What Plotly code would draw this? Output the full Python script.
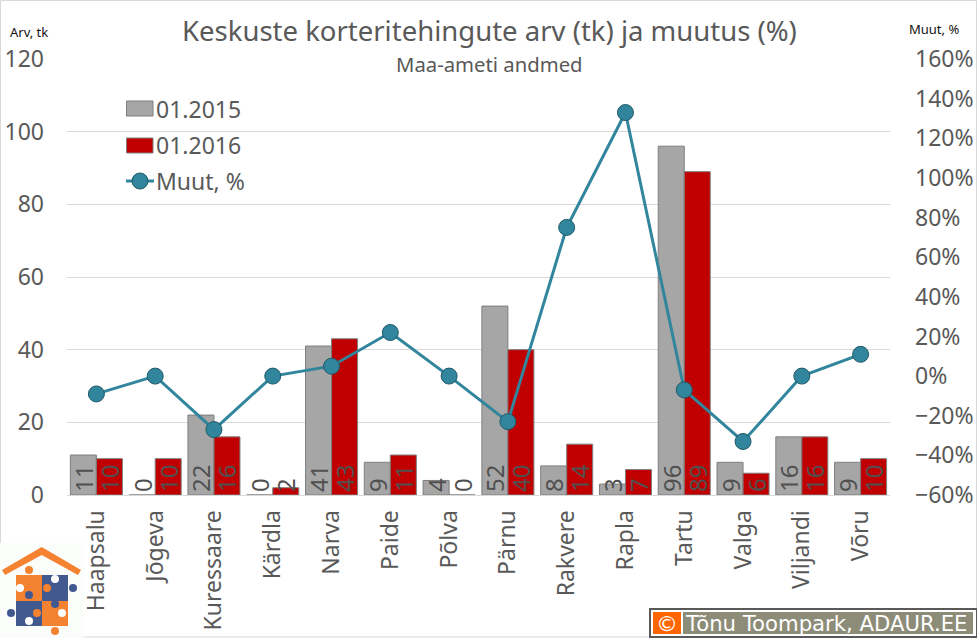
import plotly.graph_objects as go

categories = ["Haapsalu","Jõgeva","Kuressaare","Kärdla","Narva","Paide","Põlva","Pärnu","Rakvere","Rapla","Tartu","Valga","Viljandi","Võru"]
values_2015 = [11,0,22,0,41,9,4,52,8,3,96,9,16,9]
values_2016 = [10,10,16,2,43,11,0,40,14,7,89,6,16,10]
change_pct = [-9,0,-27,0,5,22,0,-23,75,133,-7,-33,0,11]

FONT = "Noto Sans"
GREY = "#595959"
W, H = 977, 638
L, R, T, B = 67, 890, 59, 495

def px(x): return (x - L) / (R - L)
def py(y): return (B - y) / (B - T)

fig = go.Figure()
for name, vals, col in [("01.2015", values_2015, "#a6a6a6"), ("01.2016", values_2016, "#c00000")]:
    fig.add_trace(go.Bar(
        x=categories, y=vals, name=name,
        marker=dict(color=col, line=dict(color="#7f7f7f", width=1)),
        text=[str(v) for v in vals],
        textposition=["outside" if v == 0 else "inside" for v in vals],
        insidetextanchor="start",
        textangle=-90, constraintext="none", cliponaxis=False,
        textfont=dict(family=FONT, size=24, color="#505050"),
    ))
fig.add_trace(go.Scatter(
    x=categories, y=change_pct, name="Muut, %", yaxis="y2", mode="lines+markers",
    line=dict(color="#31859c", width=3),
    marker=dict(color="#31859c", size=16, line=dict(color="#215968", width=1)),
))

def rect(x0, y0, x1, y1, fill, line=None, lw=0, layer="above"):
    return dict(type="rect", xref="paper", yref="paper", x0=px(x0), x1=px(x1), y0=py(y1), y1=py(y0),
                fillcolor=fill, line=dict(color=line, width=lw) if lw else dict(width=0), layer=layer)
def poly(points, color):
    path = "M " + " L ".join(f"{px(a):.5f},{py(b):.5f}" for a, b in points) + " Z"
    return dict(type="path", xref="paper", yref="paper", path=path, fillcolor=color, line=dict(width=0), layer="above")
def circ(cx, cy, r, color, line=None):
    return dict(type="circle", xref="paper", yref="paper", x0=px(cx-r), x1=px(cx+r), y0=py(cy+r), y1=py(cy-r),
                fillcolor=color, line=dict(color=line, width=1) if line else dict(width=0), layer="above")

OR, BL = "#f58231", "#42598f"
shapes = [
    rect(0.5, 0.5, 976.5, 637, "rgba(0,0,0,0)", "#d9d9d9", 1, "below"),
    rect(175, 12, 802, 78, "#ffffff"),
    # legend keys
    rect(126.5, 101, 153, 116, "#a6a6a6", "#7f7f7f", 1),
    rect(126.5, 138, 153, 153, "#c00000", "#7f7f7f", 1),
    dict(type="line", xref="paper", yref="paper", x0=px(126), x1=px(154), y0=py(181), y1=py(181),
         line=dict(color="#31859c", width=3), layer="above"),
    circ(140, 181, 8, "#31859c", "#215968"),
    # logo
    rect(0, 543, 84, 638, "#fbfdfb"),
    poly([(2,570),(41.7,547),(81,570),(78,575),(41.7,555),(5,575)], OR),
    poly([(16,575),(42,575),(42,601),(16,601)], OR),
    poly([(42,575),(68,575),(68,601),(42,601)], BL),
    poly([(16,601),(42,601),(42,626),(16,626)], BL),
    poly([(42,601),(68,601),(68,626),(42,626)], OR),
    circ(29,570,4,OR), circ(73,588,4,BL), circ(11,613,4,BL), circ(55,631,4,OR),
    circ(55,579,4,"#ffffff"), circ(20,588,4,"#ffffff"), circ(29,621,4,"#ffffff"), circ(62,613,4,"#ffffff"),
    circ(29,595,4,BL), circ(55,604,4,BL), circ(37,613,4,OR), circ(47,588,4,OR),
    # copyright badge
    rect(650, 609, 977, 637, "#ffffff", "#595959", 2),
    rect(653, 612, 681, 634, "#ff6600"),
    rect(683, 612, 973, 634, "#8c8c78"),
]

def note(x, y, text, size, color=GREY, family=FONT, xanchor="center"):
    return dict(xref="paper", yref="paper", x=px(x), y=py(y), text=text, showarrow=False,
                font=dict(family=family, size=size, color=color), xanchor=xanchor, yanchor="middle",
                borderpad=0, borderwidth=0)

annotations = [
    note(489, 31, "Keskuste korteritehingute arv (tk) ja muutus (%)", 27.5),
    note(489, 64, "Maa-ameti andmed", 20.3),
    note(29, 32, "Arv, tk", 13, color="#111111"),
    note(934, 29, "Muut, %", 13, color="#111111"),
    note(156, 109, "01.2015", 23, xanchor="left"),
    note(156, 145, "01.2016", 23, xanchor="left"),
    note(156, 181, "Muut, %", 23, xanchor="left"),
    note(667, 623, "©", 22, color="#ffffff", family="DejaVu Sans"),
    note(685, 623, "Tõnu Toompark, ADAUR.EE", 21.2, color="#ffffff", family="DejaVu Sans", xanchor="left"),
]

fig.update_layout(
    width=W, height=H, autosize=False,
    margin=dict(l=L, r=W-R, t=T, b=H-B, pad=0),
    paper_bgcolor="white", plot_bgcolor="white",
    barmode="group", bargap=0.115, bargroupgap=0,
    font=dict(family=FONT, color=GREY),
    showlegend=False,
    xaxis=dict(type="category", categoryorder="array", categoryarray=categories, tickangle=-90,
               range=[-0.5, 13.5], ticklabelstandoff=5,
               tickfont=dict(family=FONT, size=23, color=GREY), showline=True, linecolor="#d9d9d9",
               ticks="", showgrid=False, automargin=False),
    yaxis=dict(range=[0,120], tickvals=[0,20,40,60,80,100,120], gridcolor="#d9d9d9",
               tickfont=dict(family=FONT, size=23, color=GREY), zeroline=False, ticks="", automargin=False,
               ticklabelstandoff=22),
    yaxis2=dict(range=[-60,160], overlaying="y", side="right", dtick=20, ticksuffix="%", showgrid=False,
                tickfont=dict(family=FONT, size=23, color=GREY), zeroline=False, ticks="", automargin=False,
                ticklabelstandoff=24),
    shapes=shapes, annotations=annotations,
)
fig.write_html("out.html", config=dict(displayModeBar=False),
               post_script="document.body.style.margin='0';document.body.style.overflow='hidden';")
